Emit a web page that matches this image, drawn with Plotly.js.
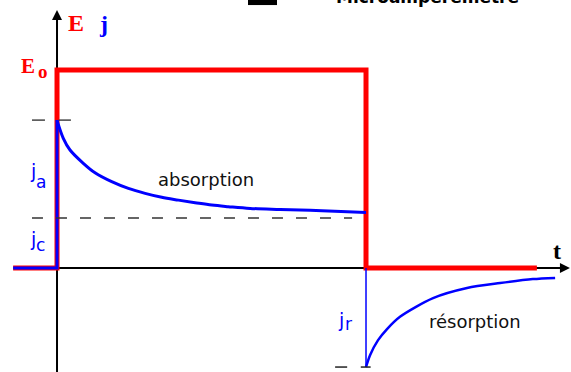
<!DOCTYPE html>
<html>
<head>
<meta charset="utf-8">
<script src="https://cdn.plot.ly/plotly-3.0.1.min.js"></script>
<style>
  html, body { margin: 0; padding: 0; background: #fff; }
  #chart { width: 571px; height: 372px; }
</style>
</head>
<body>
<div id="chart"></div>
<script>
// time axis: 10 units = duration of the applied voltage step
// E normalised to E0 = 1, currents on the same vertical scale

// applied voltage E(t)
const tE = [-1.42, 0, 0, 10, 10, 15.53];
const vE = [0, 0, 1, 1, 0, 0];

// absorption current j(t) while E0 is applied
const tAbs = [0, 0.204, 0.421, 0.851, 1.23, 1.77, 2.31, 2.85, 3.39, 3.93, 4.47, 5.01, 5.54, 6.25, 7.22, 8.19, 8.99, 10];
const jAbs = [0.747, 0.655, 0.596, 0.529, 0.481, 0.436, 0.402, 0.377, 0.357, 0.343, 0.33, 0.318, 0.31, 0.301, 0.296, 0.292, 0.287, 0.281];

// current before the step
const tBefore = [-1.42, 0, 0];
const jBefore = [0, 0, 0.747];

// resorption current after the step
const tRes = [10, 10.13, 10.39, 10.68, 11.1, 12.17, 13.27, 14.34, 15.4, 16.12];
const jRes = [-0.5, -0.44, -0.364, -0.308, -0.246, -0.152, -0.101, -0.076, -0.056, -0.05];

// conduction current level (dashed)
const jc = 0.253;
const tJc = [-0.81, 9.55];

// small tick marks at peak currents
const tPeakMarks = [-0.81, -0.39, null, 0.06, 0.45];
const tResMarks = [9.0, 9.39, null, 9.83, 10.15];

const red = '#ff0000';
const blue = '#0000ff';
const serif = 'Liberation Serif';
const sans = 'DejaVu Sans';

const data = [
    { // E(t)
        x: tE, y: vE, type: 'scatter', mode: 'lines',
        line: { color: red, width: 5 }, hoverinfo: 'none'
    },
    {
        x: tBefore, y: jBefore, type: 'scatter', mode: 'lines',
        line: { color: blue, width: 3 }, hoverinfo: 'none'
    },
    {
        x: tAbs, y: jAbs, type: 'scatter', mode: 'lines',
        line: { color: blue, width: 3, shape: 'spline', smoothing: 1 }, hoverinfo: 'none'
    },
    { // thin drop at switch-off
        x: [tRes[0], tRes[0]], y: [0, jRes[0]], type: 'scatter', mode: 'lines',
        line: { color: blue, width: 1.5 }, hoverinfo: 'none'
    },
    {
        x: tRes, y: jRes, type: 'scatter', mode: 'lines',
        line: { color: blue, width: 2.5, shape: 'spline', smoothing: 0.8 }, hoverinfo: 'none'
    },
    { // jc level
        x: tJc, y: [jc, jc], type: 'scatter', mode: 'lines',
        line: { color: '#333', width: 1.5, dash: '11px,13px' }, hoverinfo: 'none'
    },
    {
        x: tPeakMarks, y: tPeakMarks.map(v => v === null ? null : jAbs[0]),
        type: 'scatter', mode: 'lines', connectgaps: false,
        line: { color: '#444', width: 1.5 }, hoverinfo: 'none'
    },
    {
        x: tResMarks, y: tResMarks.map(v => v === null ? null : jRes[0]),
        type: 'scatter', mode: 'lines', connectgaps: false,
        line: { color: '#222', width: 1.5 }, hoverinfo: 'none'
    }
];

function label(x, y, text, color, family, size, extra) {
    return Object.assign({
        x: x, y: y, xref: 'x', yref: 'y', text: text, showarrow: false,
        font: { color: color, family: family, size: size }
    }, extra || {});
}

function arrowHead(x, y, ax, ay) {
    return {
        x: x, y: y, ax: ax, ay: ay, xref: 'x', yref: 'y', axref: 'x', ayref: 'y',
        text: '', showarrow: true, arrowhead: 2, arrowsize: 1, arrowwidth: 2,
        arrowcolor: '#000', standoff: 0
    };
}

const left = { xanchor: 'left' };

const layout = {
    width: 571,
    height: 372,
    margin: { l: 0, r: 0, t: 0, b: 0 },
    paper_bgcolor: '#fff',
    plot_bgcolor: '#fff',
    showlegend: false,
    xaxis: { range: [-1.845, 16.634], visible: false, fixedrange: true },
    yaxis: { range: [-0.525, 1.3535], visible: false, fixedrange: true },
    shapes: [
        { type: 'line', layer: 'below', x0: 0, x1: 0, y0: -0.525, y1: 1.27,
          line: { color: '#000', width: 2 } },
        { type: 'line', layer: 'below', x0: 0, x1: 16.3, y0: 0, y1: 0,
          line: { color: '#000', width: 2 } },
        { type: 'rect', x0: 6.18, x1: 7.12, y0: 1.328, y1: 1.36,
          fillcolor: '#000', line: { width: 0 } }
    ],
    annotations: [
        arrowHead(0, 1.303, 0, 1.2),
        arrowHead(16.6, 0, 16.2, 0),
        label(0.615, 1.235, '<b>E</b>', red, serif, 24),
        label(1.49, 1.23, '<b>j</b>', blue, serif, 24),
        label(-0.64, 1.02, '<b>E</b>', red, serif, 21, { xanchor: 'right' }),
        label(-0.67, 0.99, '<b>o</b>', red, serif, 19, left),
        label(-0.93, 0.49, 'j', blue, sans, 19, left),
        label(-0.73, 0.434, 'a', blue, sans, 17, left),
        label(-0.93, 0.146, 'j', blue, sans, 19, left),
        label(-0.73, 0.116, 'c', blue, sans, 17, left),
        label(9.03, -0.263, 'j', blue, sans, 19, left),
        label(9.25, -0.285, 'r', blue, sans, 17, left),
        label(4.806, 0.445, 'absorption', '#111', sans, 18),
        label(13.53, -0.272, 'résorption', '#111', sans, 18),
        label(16.18, 0.085, '<b>t</b>', '#000', serif, 24),
        label(12.0, 1.308, '<b>Microampèremètre</b>', '#000', sans, 17, { yanchor: 'bottom' })
    ]
};

Plotly.newPlot('chart', data, layout, { staticPlot: true, displayModeBar: false });
</script>
</body>
</html>
